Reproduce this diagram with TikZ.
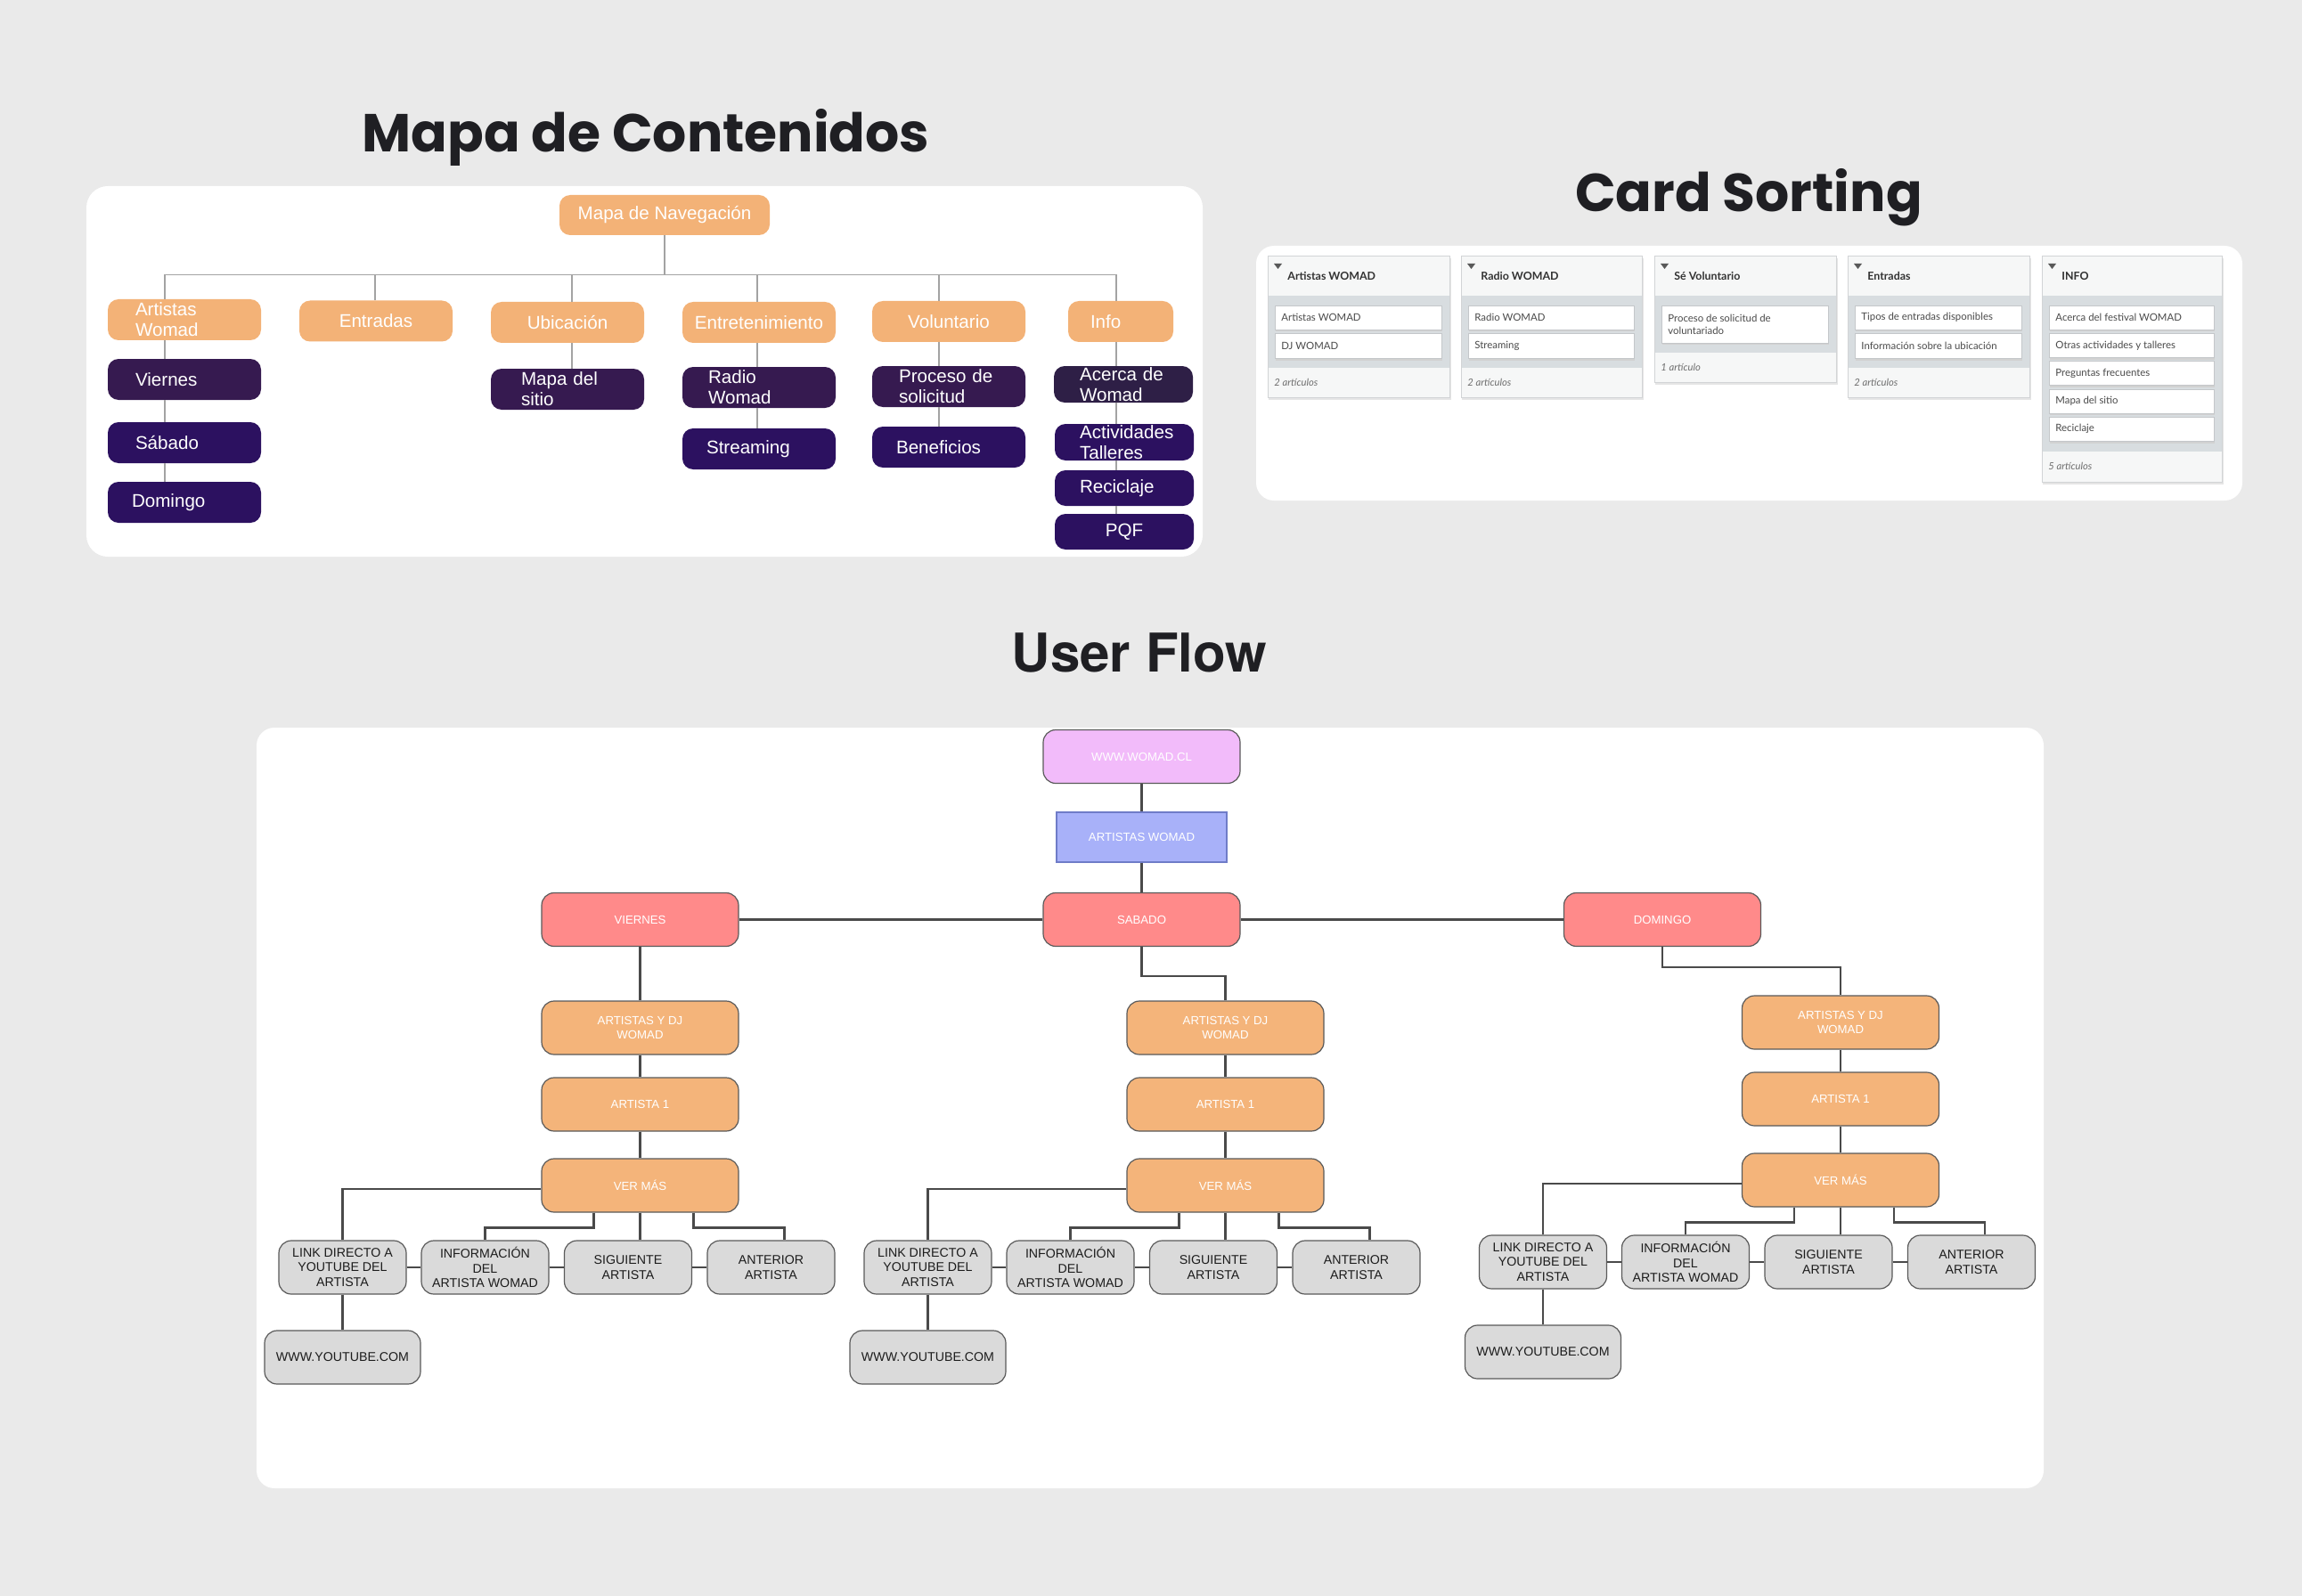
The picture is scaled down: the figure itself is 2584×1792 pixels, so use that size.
\documentclass[tikz,border=0pt]{standalone}
\usepackage{fontspec}
\setmainfont{Liberation Sans}
\newfontfamily\poppinsfont{Poppins}
\newfontfamily\herosfont{TeX Gyre Heros}
\newfontfamily\latofont{Lato}
\definecolor{bgc}{HTML}{EAEAEA}
\definecolor{titc}{HTML}{1F1F23}
\definecolor{mOrange}{HTML}{F3B277}
\definecolor{mPurA}{HTML}{361A50}
\definecolor{mPurB}{HTML}{2C1160}
\definecolor{mPurC}{HTML}{2E1F46}
\definecolor{mLine}{HTML}{A3A3A3}
\definecolor{csHead}{HTML}{F6F7F7}
\definecolor{csBody}{HTML}{D8DDE0}
\definecolor{csBord}{HTML}{D2D4D6}
\definecolor{csCardB}{HTML}{C4C7CA}
\definecolor{csText}{HTML}{4A4A4A}
\definecolor{csFoot}{HTML}{6E6E6E}
\definecolor{uPink}{HTML}{F2BBFA}
\definecolor{uBlue}{HTML}{A8B1F9}
\definecolor{uBlueB}{HTML}{6F7CC8}
\definecolor{uRed}{HTML}{FF8A8A}
\definecolor{uOrange}{HTML}{F4B47A}
\definecolor{uGray}{HTML}{DADADA}
\definecolor{uBord}{HTML}{5A5A5A}
\definecolor{uLine}{HTML}{4A4A4A}
\definecolor{uText}{HTML}{1C1C1C}

\newcommand\cscol[8]{% name, L, R, body bottom, bottom, title, footer, footer y
  \fill[black!10] ({#2+1},290) rectangle ({#3+2},{#5+2.5});
  \fill[csHead] (#2,288) rectangle (#3,332);
  \fill[csBody] (#2,332) rectangle (#3,#4);
  \fill[csHead] (#2,#4) rectangle (#3,#5);
  \draw[csBord, line width=0.5pt] (#2,288) rectangle (#3,#5);
  \fill[black!65] ({#2+7},296) -- ({#2+16},296) -- ({#2+11.5},302) -- cycle;
  \node[cshead, anchor=west] (#1h) at ({#2+22},310) {#6};
  \node[csfoot, anchor=west] (#1f) at ({#2+7},#8) {#7};
}
\newcommand\cscard[6]{% name, L, R, y1, y2, text
  \fill[black!18] ({#2+9},{#4+2}) rectangle ({#3-8},{#5+2.5});
  \filldraw[fill=white, draw=csCardB, line width=0.4pt] ({#2+8},#4) rectangle ({#3-9},#5);
  \node[cstext, anchor=west] (#1) at ({#2+15},{(#4+#5)/2}) {#6};
}
\newcommand\ufcol[3]{% prefix, center x, dy
  \node[uorange] (#1adj) at (#2,{1154+#3}) {ARTISTAS Y DJ\\WOMAD};
  \node[uorange] (#1aone) at (#2,{1240+#3}) {ARTISTA 1};
  \node[uorange] (#1vm) at (#2,{1331+#3}) {VER MÁS};
  \node[ugray] (#1link) at ({#2-334},{1423+#3}) {LINK DIRECTO A\\YOUTUBE DEL\\ARTISTA};
  \node[ugray] (#1info) at ({#2-174},{1423+#3}) {INFORMACIÓN\\DEL\\ARTISTA WOMAD};
  \node[ugray] (#1sig) at ({#2-13.5},{1423+#3}) {SIGUIENTE\\ARTISTA};
  \node[ugray] (#1ant) at ({#2+147},{1423+#3}) {ANTERIOR\\ARTISTA};
  \node[ugray, minimum width=87.5pt] (#1yt) at ({#2-334},{1524+#3}) {WWW.YOUTUBE.COM};
  \draw[uline] (#1adj) -- (#1aone);
  \draw[uline] (#1aone) -- (#1vm);
  \draw[uline] ([yshift=-2pt]#1vm.west) -| (#1link.north);
  \draw[uline] ([xshift=-26pt]#1vm.south) -- ++(0,17) -| (#1info.north);
  \draw[uline] (#1vm.south) -- (#1vm.south |- #1sig.north);
  \draw[uline] ([xshift=30pt]#1vm.south) -- ++(0,17) -| ([xshift=7.5pt]#1ant.north);
  \draw[uline] (#1link) -- (#1info);
  \draw[uline] (#1info) -- (#1sig);
  \draw[uline] (#1sig) -- (#1ant);
  \draw[uline] (#1link) -- (#1yt);
}

\begin{document}
\begin{tikzpicture}[x=0.5pt,y=-0.5pt,
  titleP/.style={font=\poppinsfont\bfseries\fontsize{30}{36}\selectfont, text=titc, inner sep=0pt},
  titleH/.style={font=\herosfont\bfseries\fontsize{30}{36}\selectfont, text=titc, inner sep=0pt},
  mbox/.style={rounded corners=6pt, minimum width=86pt, minimum height=23pt, inner sep=0pt, text=white, font=\fontsize{10.3}{11.5}\selectfont, align=center},
  mor/.style={mbox, fill=mOrange},
  mpa/.style={mbox, fill=mPurA},
  mpb/.style={mbox, fill=mPurB},
  mpc/.style={mbox, fill=mPurC},
  mleft/.style 2 args={align=left, text width=#1, inner xsep=#2},
  mline/.style={draw=mLine, line width=0.8pt},
  cshead/.style={font=\latofont\bfseries\fontsize{6.2}{7}\selectfont, text=black!80, inner sep=0pt},
  cstext/.style={font=\latofont\fontsize{5.7}{7}\selectfont, text=csText, inner sep=0pt, align=left},
  csfoot/.style={font=\latofont\itshape\fontsize{5.6}{7}\selectfont, text=csFoot, inner sep=0pt},
  ubox/.style={rounded corners=7pt, draw=uBord, line width=0.6pt, minimum width=110.5pt, minimum height=30pt, inner sep=0pt, text=white, font=\fontsize{6.6}{8}\selectfont, align=center},
  upink/.style={ubox, fill=uPink},
  ublue/.style={ubox, sharp corners, fill=uBlue, draw=uBlueB, minimum width=95.5pt, minimum height=28pt},
  ured/.style={ubox, fill=uRed},
  uorange/.style={ubox, fill=uOrange},
  ugray/.style={ubox, fill=uGray, text=uText, minimum width=71.5pt, font=\fontsize{7.1}{8.3}\selectfont},
  uline/.style={draw=uLine, line width=1.2pt}
]
\fill[bgc] (0,0) rectangle (2584,1792);
\useasboundingbox (0,0) rectangle (2584,1792);

% panels
\fill[white, rounded corners=12pt] (97,209) rectangle (1350,625);
\fill[white, rounded corners=10pt] (1410,276) rectangle (2517,562);
\fill[white, rounded corners=10pt] (288,817) rectangle (2294,1671);

% titles
\node[titleP, anchor=base] (t1) at (725,171) {Mapa de Contenidos};
\node[titleP, anchor=base] (t2) at (1963,238) {Card Sorting};
\node[titleH, anchor=base] (t3) at (1279,754) {User Flow};

% ---------------- Mapa de Contenidos ----------------
\node[mor, minimum width=118pt, minimum height=22.5pt] (root) at (746,241.5) {Mapa de Navegación};
\node[mor, mleft={55pt}{15.5pt}] (art) at (207,359) {Artistas\\Womad};
\node[mor] (ent) at (422,360.5) {Entradas};
\node[mor] (ubi) at (637,362) {Ubicación};
\node[mor] (etr) at (852,362) {Entretenimiento};
\node[mor] (vol) at (1065,361) {Voluntario};
\node[mor, minimum width=59pt, mleft={34pt}{12.5pt}] (inf) at (1258,361) {Info};

\node[mpa, mleft={55pt}{15.5pt}] (vie) at (207,426) {Viernes};
\node[mpb, mleft={55pt}{15.5pt}] (sab) at (207,497) {Sábado};
\node[mpb, mleft={59pt}{13.5pt}] (dom) at (207,564) {Domingo};
\node[mpa, mleft={52pt}{17pt}] (msit) at (637,437) {Mapa del\\sitio};
\node[mpa, mleft={57pt}{14.5pt}] (rad) at (852,435) {Radio\\Womad};
\node[mpb, mleft={59pt}{13.5pt}] (str) at (852,504) {Streaming};
\node[mpa, mleft={56pt}{15pt}] (pro) at (1065,434) {Proceso de\\solicitud};
\node[mpb, mleft={59pt}{13.5pt}] (ben) at (1065,502) {Beneficios};
\node[mpc, minimum width=78pt, minimum height=20.5pt, mleft={49pt}{14.5pt}] (ace) at (1261,431.5) {Acerca de\\Womad};
\node[mpb, minimum width=78pt, minimum height=20.5pt, mleft={50pt}{14pt}] (act) at (1262,496.5) {Actividades\\Talleres};
\node[mpb, minimum width=78pt, minimum height=20pt, mleft={50pt}{14pt}] (rec) at (1262,548) {Reciclaje};
\node[mpb, minimum width=78pt, minimum height=20pt] (pqf) at (1262,597) {PQF};

\coordinate (bar) at ([yshift=-22pt]root.south);
\draw[mline] (root.south) -- (bar);
\coordinate (cArt) at ([xshift=-11pt]art.north);
\coordinate (cEnt) at ([xshift=-0.5pt]ent.north);
\coordinate (cUbi) at ([xshift=2.5pt]ubi.north);
\coordinate (cEtr) at ([xshift=-1pt]etr.north);
\coordinate (cVol) at ([xshift=-5.5pt]vol.north);
\coordinate (cInf) at ([xshift=-2.5pt]inf.north);
\foreach \c in {cArt,cEnt,cUbi,cEtr,cVol,cInf}{\draw[mline] (bar) -| (\c);}
\draw[mline] ([xshift=-11pt]art.south) -- ([xshift=-11pt]vie.north);
\draw[mline] ([xshift=-11pt]vie.south) -- ([xshift=-11pt]sab.north);
\draw[mline] ([xshift=-11pt]sab.south) -- ([xshift=-11pt]dom.north);
\draw[mline] ([xshift=2.5pt]ubi.south) -- ([xshift=2.5pt]msit.north);
\draw[mline] ([xshift=-1pt]etr.south) -- ([xshift=-1pt]rad.north);
\draw[mline] ([xshift=-1pt]rad.south) -- ([xshift=-1pt]str.north);
\draw[mline] ([xshift=-5.5pt]vol.south) -- ([xshift=-5.5pt]pro.north);
\draw[mline] ([xshift=-5.5pt]pro.south) -- ([xshift=-5.5pt]ben.north);
\draw[mline] ([xshift=-2.5pt]inf.south) -- ([xshift=-4pt]ace.north);
\draw[mline] ([xshift=-4pt]ace.south) -- ([xshift=-4.5pt]act.north);
\draw[mline] ([xshift=-4.5pt]act.south) -- ([xshift=-4.5pt]rec.north);
\draw[mline] ([xshift=-4.5pt]rec.south) -- ([xshift=-4.5pt]pqf.north);

% ---------------- Card Sorting ----------------
\cscol{ca}{1423}{1627}{413}{446}{Artistas WOMAD}{2 artículos}{429}
\cscard{caa}{1423}{1627}{343}{370}{Artistas WOMAD}
\cscard{cab}{1423}{1627}{374}{402}{DJ WOMAD}
\cscol{cb}{1640}{1843}{413}{446}{Radio WOMAD}{2 artículos}{429}
\cscard{cba}{1640}{1843}{343}{370}{Radio WOMAD}
\cscard{cbb}{1640}{1843}{374}{402}{Streaming}
\cscol{cc}{1857}{2061}{396}{429}{Sé Voluntario}{1 artículo}{412}
\cscard{cca}{1857}{2061}{343}{385}{Proceso de solicitud de\\voluntariado}
\cscol{cd}{2074}{2278}{413}{446}{Entradas}{2 artículos}{429}
\cscard{cda}{2074}{2278}{343}{370}{Tipos de entradas disponibles}
\cscard{cdb}{2074}{2278}{374}{402}{Información sobre la ubicación}
\cscol{ce}{2292}{2494}{507}{541}{INFO}{5 artículos}{523}
\cscard{cea}{2292}{2494}{343}{370}{Acerca del festival WOMAD}
\cscard{ceb}{2292}{2494}{374.3}{401.3}{Otras actividades y talleres}
\cscard{cec}{2292}{2494}{405.6}{432.6}{Preguntas frecuentes}
\cscard{ced}{2292}{2494}{436.9}{463.9}{Mapa del sitio}
\cscard{cee}{2292}{2494}{468.2}{495.2}{Reciclaje}

% ---------------- User Flow ----------------
\node[upink] (www) at (1281.5,849.5) {WWW.WOMAD.CL};
\node[ublue] (aw) at (1281.5,940) {ARTISTAS WOMAD};
\node[ured] (dvie) at (718.5,1032.5) {VIERNES};
\node[ured] (dsab) at (1281.5,1032.5) {SABADO};
\node[ured] (ddom) at (1866,1032.5) {DOMINGO};
\draw[uline] (www) -- (aw);
\draw[uline] (aw) -- (dsab);
\draw[uline] (dvie) -- (dsab);
\draw[uline] (dsab) -- (ddom);

\ufcol{v}{718.5}{0}
\ufcol{s}{1375.5}{0}
\ufcol{d}{2066}{-6}

\draw[uline] (dvie.south) -- (vadj.north);
\draw[uline] (dsab.south) -- ++(0,33) -| (sadj.north);
\draw[uline] (ddom.south) -- ++(0,23) -| (dadj.north);
\end{tikzpicture}
\end{document}
